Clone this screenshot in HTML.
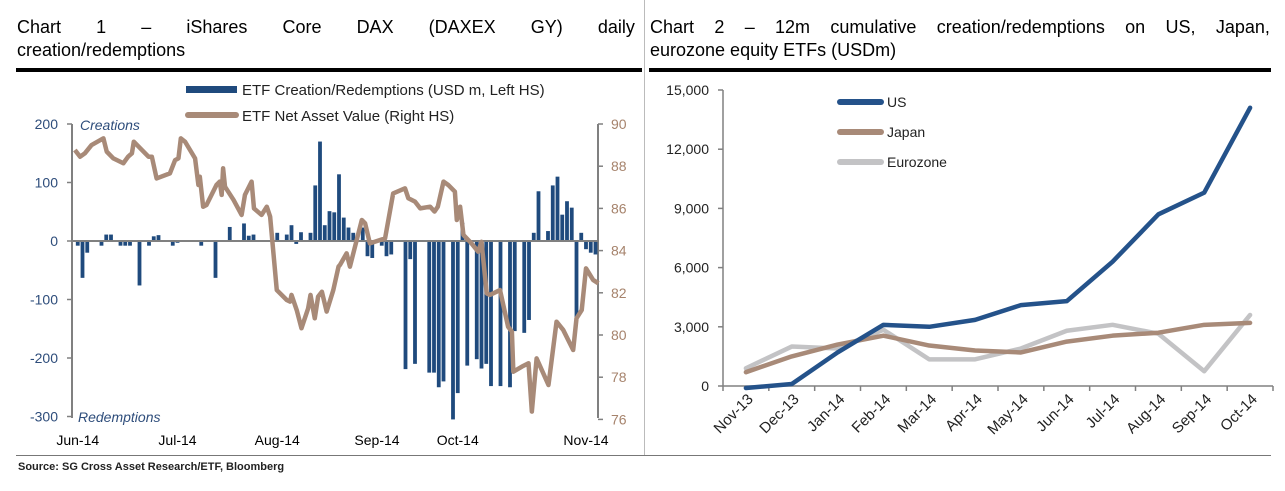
<!DOCTYPE html>
<html><head><meta charset="utf-8">
<style>
body{margin:0;background:#fff;width:1285px;height:491px;overflow:hidden;font-family:"Liberation Sans",Arial,sans-serif;position:relative}
.title{position:absolute;font-size:18px;line-height:23px;color:#000}
.l1{display:flex;justify-content:space-between;white-space:nowrap}
.rule{position:absolute;height:4px;background:#000}
</style></head><body>
<div class="title" style="left:17px;top:16px;width:618px;"><div class="l1"><span>Chart</span><span>1</span><span>–</span><span>iShares</span><span>Core</span><span>DAX</span><span>(DAXEX</span><span>GY)</span><span>daily</span></div><div>creation/redemptions</div></div>
<div class="title" style="left:650px;top:16px;width:620px;"><div class="l1"><span>Chart</span><span>2</span><span>–</span><span>12m</span><span>cumulative</span><span>creation/redemptions</span><span>on</span><span>US,</span><span>Japan,</span></div><div>eurozone equity ETFs (USDm)</div></div>
<div class="rule" style="left:16px;top:68px;width:626px"></div>
<div class="rule" style="left:649px;top:68px;width:622px"></div>
<div style="position:absolute;left:644px;top:0;width:1px;height:455px;background:#bbb"></div>
<div style="position:absolute;left:16px;top:455px;width:1255px;height:1px;background:#777"></div>
<div style="position:absolute;left:18px;top:461px;font-size:11px;font-weight:bold;color:#222">Source: SG Cross Asset Research/ETF, Bloomberg</div>
<svg id="c1" width="645" height="455" style="position:absolute;left:0;top:0" font-family="Liberation Sans, Arial, sans-serif"></svg>
<svg id="c2" width="640" height="455" style="position:absolute;left:645px;top:0" font-family="Liberation Sans, Arial, sans-serif"></svg>
<script>
// Chart 1 data
const barDays=[1,2,3,6,7,8,10,11,12,14,16,17,18,21,22,27,30,33,36,37,38,43,45,46,47,48,50,51,52,53,54,55,56,57,58,59,61,62,63,65,66,67,70,71,72,75,76,77,78,80,81,82,83,85,86,87,88,90,92,93,95,96,97,98,100,101,102,103,104,105,106,107,108,109,110];
const barVals=[-8,-63,-20,-8,11,11,-8,-8,-8,-76,-8,8,10,-8,-3,-8,-63,24,30,9,11,14,11,27,-5,15,14,95,170,27,51,49,114,40,23,14,23,-26,-29,-8,-26,-23,-219,-31,-210,-225,-225,-250,-240,-305,-260,31,-213,-202,-218,-210,-248,-248,-250,-154,-157,-135,14,85,17,95,110,45,68,57,-134,14,-14,-20,-23,5,-29];
const navDays=[0.4,1.5,2.5,3.9,6.4,7.1,8.5,10.6,11.6,12.4,12.8,14.5,15.9,16.6,17.6,20.4,21.5,22.2,22.7,23.6,25.7,26.4,26.7,27.4,28.1,30.2,30.9,31.3,31.6,32,33.8,35.5,36.2,37.6,38.1,39.7,40.8,41.5,42.9,45,45.7,46,47.1,48.1,49.5,50,50.9,51.6,52.4,53.4,54.8,55.9,56.2,57.6,58.3,60.8,61.5,62.5,65.7,67.4,69.9,70.6,72,73.1,75.2,76.1,76.8,78,79,80.4,80.8,81.5,82.2,83.9,85.3,86,87.1,87.8,89.9,91.6,92.4,92.7,94.5,95.9,96.6,97.6,98.7,100.1,101.8,103.2,105.3,106,107.1,108,109.5,110.6];
const navVals=[88.77,88.45,88.61,89.0,89.32,88.69,88.37,88.14,88.45,88.61,89.16,88.77,88.45,88.45,87.42,87.66,88.29,88.37,89.32,89.16,88.37,87.11,87.5,86.08,86.16,87.11,87.27,86.64,87.9,87.03,86.4,85.69,86.64,87.27,86.0,85.69,86.08,85.61,82.13,81.66,81.58,81.9,81.18,80.32,81.26,81.9,80.79,81.82,82.05,81.11,82.13,83.24,83.32,83.87,83.24,85.45,85.29,84.34,84.58,86.71,86.95,86.48,86.32,86.0,86.08,85.85,86.08,87.27,87.11,86.79,85.45,86.08,84.74,84.34,83.95,84.42,81.97,81.9,82.13,80.39,80.16,78.26,78.5,78.66,76.37,78.89,78.34,77.63,80.63,80.24,79.29,80.79,81.18,83.16,82.61,82.45];
const leftTicks=[200,100,0,-100,-200,-300];
const rightTicks=[90,88,86,84,82,80,78,76];
const monthLabels=["Jun-14","Jul-14","Aug-14","Sep-14","Oct-14","Nov-14"];
const monthDays=[1,22,43,64,81,108];
// Chart 2 data
const cats=["Nov-13","Dec-13","Jan-14","Feb-14","Mar-14","Apr-14","May-14","Jun-14","Jul-14","Aug-14","Sep-14","Oct-14"];
const usVals=[-100,100,1700,3100,3000,3350,4100,4300,6300,8700,9800,14100];
const jpVals=[700,1500,2100,2550,2050,1800,1700,2250,2550,2700,3100,3200];
const ezVals=[900,2000,1900,2850,1350,1350,1900,2800,3100,2650,750,3600];
const c2Ticks=[0,3000,6000,9000,12000,15000];

const NS="http://www.w3.org/2000/svg";
function mk(p,t,a,txt){const e=document.createElementNS(NS,t);for(const k in a)e.setAttribute(k,a[k]);if(txt!==undefined)e.textContent=txt;p.appendChild(e);return e;}
const BLUE="#1f4a7d",TAN="#a88a78",GREY="#808080";
// ---- Chart 1
const s1=document.getElementById('c1');
const X1=d=>73+d*4.75, YL=v=>241-v*0.585, YR=v=>124+(90-v)*21.1;
mk(s1,'line',{x1:72,y1:124,x2:72,y2:418,stroke:GREY,'stroke-width':2});
mk(s1,'line',{x1:598,y1:124,x2:598,y2:418,stroke:GREY,'stroke-width':2});
leftTicks.forEach(v=>{mk(s1,'line',{x1:67,y1:YL(v),x2:72,y2:YL(v),stroke:GREY,'stroke-width':1.5});
 const t=mk(s1,'text',{x:58,y:YL(v)+5,'text-anchor':'end','font-size':14,fill:'#2e4d7b'},v);
 });
rightTicks.forEach(v=>{mk(s1,'line',{x1:598,y1:YR(v),x2:603,y2:YR(v),stroke:GREY,'stroke-width':1.5});
 const t=mk(s1,'text',{x:611,y:YR(v)+5,'font-size':14,fill:'#a6836c'},v);
 });
barDays.forEach((d,i)=>{const v=barVals[i];const y=Math.min(YL(v),YL(0));
 const r=mk(s1,'rect',{x:X1(d)-1.9,y:y,width:3.8,height:Math.abs(YL(v)-YL(0)),fill:BLUE});
 });
mk(s1,'line',{x1:72,y1:241,x2:598,y2:241,stroke:GREY,'stroke-width':2});
const nav=mk(s1,'polyline',{points:navDays.map((d,i)=>X1(d)+','+YR(navVals[i])).join(' '),fill:'none',stroke:TAN,'stroke-width':4.5,'stroke-linejoin':'round'});

monthLabels.forEach((m,i)=>{const t=mk(s1,'text',{x:Math.min(X1(monthDays[i]),590),y:445,'text-anchor':'middle','font-size':14,fill:'#000'},m);
 });
let t=mk(s1,'text',{x:80,y:130,'font-size':14,'font-style':'italic',fill:'#2e4d7b'},'Creations');
t=mk(s1,'text',{x:78,y:422,'font-size':14,'font-style':'italic',fill:'#2e4d7b'},'Redemptions');
let g=mk(s1,'g',{});
mk(g,'rect',{x:186,y:86,width:51,height:7,fill:BLUE});mk(g,'text',{x:242,y:95,'font-size':15,fill:'#222'},'ETF Creation/Redemptions (USD m, Left HS)');
g=mk(s1,'g',{});
mk(g,'line',{x1:188,y1:115,x2:236,y2:115,stroke:TAN,'stroke-width':6,'stroke-linecap':'round'});mk(g,'text',{x:242,y:121,'font-size':15,fill:'#222'},'ETF Net Asset Value (Right HS)');
// ---- Chart 2 (offset 645)
const s2=document.getElementById('c2');
const L=78,R=628,bw=(R-L)/12;
const X2=i=>L+bw*(i+0.5), Y2=v=>386-v*(296/15000);
mk(s2,'line',{x1:L,y1:90,x2:L,y2:386,stroke:GREY,'stroke-width':1.5});
mk(s2,'line',{x1:L,y1:386,x2:R,y2:386,stroke:GREY,'stroke-width':1.5});
c2Ticks.forEach(v=>{mk(s2,'line',{x1:L-5,y1:Y2(v),x2:L,y2:Y2(v),stroke:GREY,'stroke-width':1.5});
 const t=mk(s2,'text',{x:L-14,y:Y2(v)+5,'text-anchor':'end','font-size':14,fill:'#222'},v.toLocaleString('en-US'));
 });
for(let i=0;i<=12;i++)mk(s2,'line',{x1:L+bw*i,y1:386,x2:L+bw*i,y2:391,stroke:GREY,'stroke-width':1.5});
cats.forEach((c,i)=>{const x=X2(i)+8,y=400;const t=mk(s2,'text',{x:x,y:y,'text-anchor':'end','font-size':15,fill:'#222',transform:`rotate(-45 ${x} ${y})`},c);
 });
[[ezVals,'#c3c3c5','eurozone-line'],[jpVals,TAN,'japan-line'],[usVals,'#24528a','us-line']].forEach(([vals,col,nm])=>{
 const p=mk(s2,'polyline',{points:vals.map((v,i)=>X2(i)+','+Y2(v)).join(' '),fill:'none',stroke:col,'stroke-width':4.5,'stroke-linejoin':'round','stroke-linecap':'round'});
 });
[['US','#24528a',102,'legend-entry-us'],['Japan',TAN,132,'legend-entry-japan'],['Eurozone','#c3c3c5',162,'legend-entry-eurozone']].forEach(([lab,col,y,nm])=>{
 const g=mk(s2,'g',{});
 mk(g,'line',{x1:195,y1:y,x2:236,y2:y,stroke:col,'stroke-width':6,'stroke-linecap':'round'});
 mk(g,'text',{x:242,y:y+5,'font-size':14,fill:'#222'},lab);});
</script>
</body></html>
